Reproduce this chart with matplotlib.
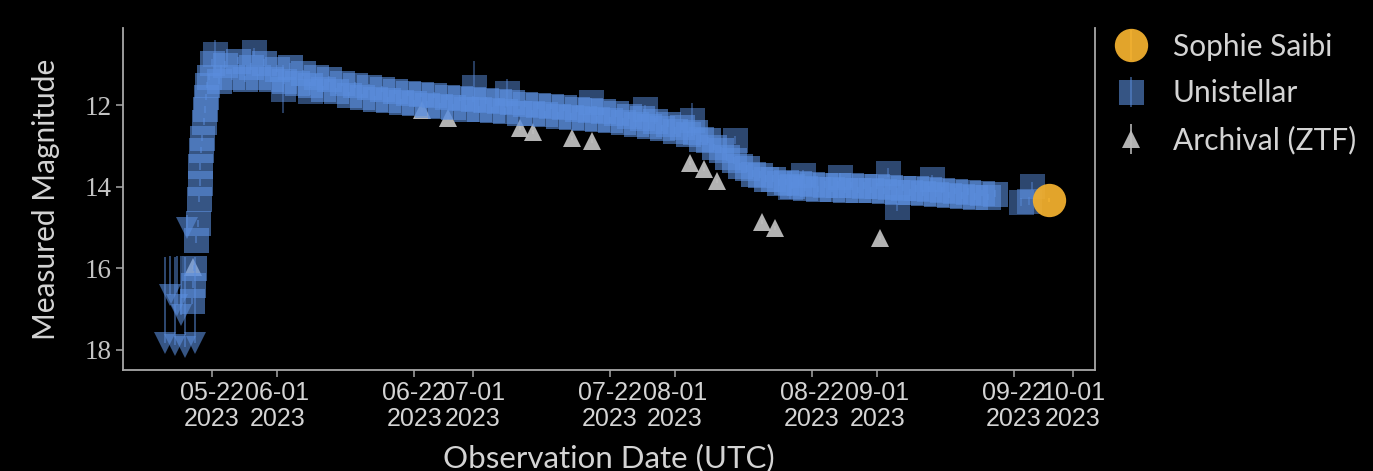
import numpy as np
import matplotlib
matplotlib.use('Agg')
import matplotlib.pyplot as plt
import matplotlib.dates as mdates
from matplotlib import font_manager

# ---- data (days since 2023-05-01 UTC, magnitudes) ----
t0 = '2023-05-01'

# Unistellar detections, rise
rise_days = [17.9, 18.1, 18.3, 18.6, 18.8, 19.0, 19.1, 19.2, 19.3, 19.5, 19.7, 19.9, 20.1, 20.3, 20.6]
rise_mags = [16.8, 16.4, 16.0, 15.3, 14.9, 14.3, 13.9, 13.5, 13.1, 12.8, 12.4, 12.1, 11.8, 11.5, 11.3]

# Unistellar detections, main light curve (about one per day)
uni_days = list(range(21, 142))
uni_mags = [10.95, 11.4, 11.0, 11.3, 10.9, 11.35, 11.05, 11.3, 10.95, 11.35,   # 21-30
            11.1, 11.4, 11.05, 11.45, 11.2, 11.5, 11.3, 11.6, 11.35, 11.65,     # 31-40
            11.45, 11.75, 11.5, 11.8, 11.55, 11.85, 11.6, 11.88, 11.65, 11.92,  # 41-50
            11.7, 11.95, 11.72, 11.98, 11.75, 12.02, 11.8, 12.05, 11.82, 12.08, # 51-60
            11.85, 12.1, 11.88, 12.12, 11.9, 12.15, 11.93, 12.18, 11.96, 12.2,  # 61-70
            12.0, 12.22, 12.02, 12.25, 12.05, 12.28, 12.08, 12.3, 12.12, 12.33, # 71-80
            12.15, 12.36, 12.2, 12.4, 12.25, 12.45, 12.3, 12.5, 12.38, 12.56,  # 81-90
            12.45, 12.62, 12.52, 12.7, 12.65, 12.82, 12.85, 13.02, 13.1, 13.28,  # 91-100
            13.35, 13.5, 13.55, 13.68, 13.7, 13.8, 13.8, 13.9, 13.88, 13.97,    # 101-110
            13.9, 14.02, 13.92, 14.05, 13.95, 14.06, 13.95, 14.08, 13.96, 14.08, # 111-120
            13.97, 14.08, 13.98, 14.1, 14.0, 14.12, 14.02, 14.14, 14.04, 14.15, # 121-130
            14.06, 14.17, 14.08, 14.2, 14.1, 14.22, 14.12, 14.24, 14.15, 14.25, # 131-140
            14.17]                                                              # 141

# Unistellar scattered points with larger errors
out_days = [21.5, 27.5, 31.9, 36.0, 61.2, 66.2, 79.1, 87.4, 94.6, 101.2,
            109.6, 111.6, 117.3, 124.7, 126.0, 131.4, 145.1, 146.3, 146.8]
out_mags = [10.75, 10.7, 11.6, 11.65, 11.55, 11.7, 11.92, 12.1, 12.35, 12.86,
            14.0, 13.7, 13.75, 13.65, 14.5, 13.8, 14.38, 14.35, 13.98]
out_errs = [0.35, 0.1, 0.6, 0.1, 0.65, 0.35, 0.1, 0.1, 0.4, 0.1,
            0.3, 0.1, 0.1, 0.1, 0.1, 0.1, 0.1, 0.1, 0.1]

# Unistellar upper limits
lim_days = [13.8, 15.3, 16.9, 18.4, 14.6, 15.6, 16.2, 17.2]
lim_mags = [17.83, 17.88, 17.93, 17.83, 16.65, 16.9, 17.15, 15.0]
lim_errs = [2.1, 2.15, 2.2, 2.1, 0.95, 1.2, 1.45, 0.3]

# Archival ZTF
ztf_days = [18.1, 53.2, 57.2, 68.2, 70.2, 76.2, 79.3, 94.3, 96.5, 98.5, 105.4, 107.3, 123.5]
ztf_mags = [15.97, 12.12, 12.32, 12.56, 12.66, 12.81, 12.88, 13.42, 13.57, 13.86, 14.87, 15.01, 15.26]

# Sophie Saibi
sophie_days = [149.4]
sophie_mags = [14.33]

tick_dates = ['2023-05-22', '2023-06-01', '2023-06-22', '2023-07-01', '2023-07-22',
              '2023-08-01', '2023-08-22', '2023-09-01', '2023-09-22', '2023-10-01']
ytick_vals = [12, 14, 16, 18]

# ---- style ----
blue = '#5b8ede'
gray = '#bdbdbd'
orange = '#f0ae2e'
txt = '#d4d4d4'
spine_c = '#a8a8a8'

try:
    font_manager.findfont('Liberation Sans Narrow', fallback_to_default=False)
    tick_font = 'Liberation Sans Narrow'
except ValueError:
    tick_font = 'Liberation Sans'

base = mdates.datestr2num(t0)

def to_x(days):
    return base + np.array(days, dtype=float)

fig = plt.figure(figsize=(13.73, 4.71), dpi=100, facecolor='black')
ax = fig.add_axes([0.0896, 0.2144, 0.7079, 0.7262])
ax.set_facecolor('black')

# ZTF below
h_ztf = ax.errorbar(to_x(ztf_days), ztf_mags, yerr=0.05, fmt='^', ms=13, mew=0,
                    color=gray, ecolor=gray, elinewidth=1.2, alpha=0.95, zorder=2,
                    label='Archival (ZTF)')

# Unistellar
h_uni = ax.errorbar(to_x(rise_days + uni_days), rise_mags + uni_mags, yerr=0.08, fmt='s',
                    ms=18, mew=0, color=blue, ecolor=blue, elinewidth=1.2, alpha=0.6,
                    zorder=3, label='Unistellar')
ax.errorbar(to_x(out_days), out_mags, yerr=out_errs, fmt='s', ms=18, mew=0,
            color=blue, ecolor=blue, elinewidth=1.2, alpha=0.5, zorder=3)
ax.errorbar(to_x(lim_days), lim_mags, yerr=[lim_errs, np.zeros(len(lim_errs))], fmt='v',
            ms=16, mew=0, color=blue, ecolor=blue, elinewidth=1.2, capsize=5,
            alpha=0.6, zorder=3)

# Sophie Saibi
h_sop = ax.errorbar(to_x(sophie_days), sophie_mags, yerr=0.05, fmt='o', ms=24, mew=0,
                    color=orange, ecolor='#f7c85a', elinewidth=1.2, alpha=0.95,
                    zorder=4, label='Sophie Saibi')

ax.set_xlim(base + 7.35, base + 156.4)
ax.set_ylim(18.5, 10.1)

xt = mdates.datestr2num(tick_dates)
xl = [mdates.num2date(v).strftime('%m-%d\n%Y') for v in xt]
ax.set_xticks(xt, xl, fontsize=18, family=tick_font, color=txt, linespacing=1.1)
ax.set_yticks(ytick_vals, [str(v) for v in ytick_vals], fontsize=19.5,
              family='Liberation Serif', color='#c4c4c4')

for side in ['left', 'bottom', 'right']:
    ax.spines[side].set_color(spine_c)
    ax.spines[side].set_linewidth(1.3)
ax.spines['top'].set_visible(False)
ax.tick_params(axis='both', direction='out', length=5, width=1.1, color=spine_c, pad=3)
ax.tick_params(axis='y', right=False)

ax.set_xlabel('Observation Date (UTC)', fontsize=22.5, family='Lato', color=txt, labelpad=9)
ax.set_ylabel('Measured Magnitude', fontsize=21.5, family='Lato', color=txt, labelpad=18)

leg = ax.legend([h_sop, h_uni, h_ztf], ['Sophie Saibi', 'Unistellar', 'Archival (ZTF)'],
                loc='upper left', bbox_to_anchor=(0.985, 1.065), frameon=False,
                prop={'family': 'Lato', 'size': 21.5}, labelspacing=0.62,
                handletextpad=0.6, borderaxespad=0.5, handlelength=1.6)
for t in leg.get_texts():
    t.set_color(txt)

fig.savefig('out.png', dpi=100, facecolor='black')
